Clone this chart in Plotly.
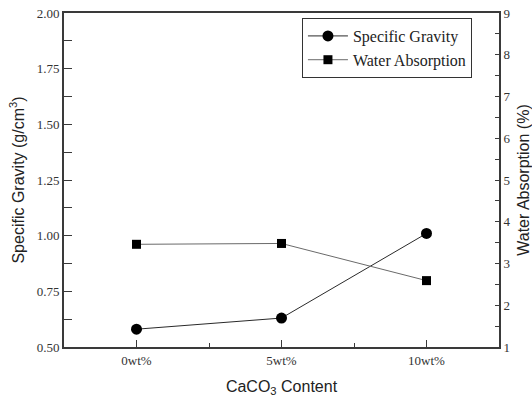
import plotly.graph_objects as go

# CaCO3 loading levels and measured properties
categories = ["0wt%", "5wt%", "10wt%"]
specific_gravity = [0.58, 0.63, 1.01]      # g/cm3
water_absorption = [3.46, 3.48, 2.59]      # %

sg_ticks = [0.50, 0.75, 1.00, 1.25, 1.50, 1.75, 2.00]
wa_ticks = [1, 2, 3, 4, 5, 6, 7, 8, 9]

x = list(range(len(categories)))

serif = "Liberation Serif"
sans = "Liberation Sans"
axis_col = "#3a3a3a"

fig = go.Figure()
fig.add_trace(go.Scatter(
    x=x, y=specific_gravity, name="Specific Gravity", mode="lines+markers",
    line=dict(color="#2a2a2a", width=1),
    marker=dict(symbol="circle", size=11, color="black"),
    yaxis="y",
))
fig.add_trace(go.Scatter(
    x=x, y=water_absorption, name="Water Absorption", mode="lines+markers",
    line=dict(color="#6a6a6a", width=1),
    marker=dict(symbol="square", size=9, color="black"),
    yaxis="y2",
))

fig.update_layout(
    width=532, height=397,
    margin=dict(l=64, r=33, t=13, b=50, autoexpand=False),
    paper_bgcolor="white", plot_bgcolor="white",
    showlegend=True,
    legend=dict(
        x=0.547, y=0.985, xanchor="left", yanchor="top",
        bordercolor="#333", borderwidth=1, bgcolor="white",
        font=dict(family=serif, size=16, color="#222"),
        tracegroupgap=0, itemwidth=40,
    ),
    xaxis=dict(
        range=[-0.5, 2.5], tickvals=x, ticktext=categories,
        ticks="inside", ticklen=7, tickcolor=axis_col, tickwidth=1,
        minor=dict(tickvals=[0.5, 1.5], ticks="inside", ticklen=4, tickcolor=axis_col),
        showline=True, linecolor=axis_col, linewidth=2, mirror=True,
        showgrid=False, zeroline=False,
        tickfont=dict(family=serif, size=13, color="#333"),
        title=dict(text="CaCO<sub>3</sub> Content", font=dict(family=sans, size=16, color="#222"), standoff=14),
    ),
    yaxis=dict(
        range=[0.5, 2.0], tickvals=sg_ticks, ticktext=[f"{v:.2f}" for v in sg_ticks],
        ticks="inside", ticklen=8, tickcolor=axis_col, tickwidth=1,
        minor=dict(dtick=0.125, ticks="inside", ticklen=8, tickcolor=axis_col),
        showline=True, linecolor=axis_col, linewidth=2,
        showgrid=False, zeroline=False,
        tickfont=dict(family=serif, size=13, color="#333"),
        title=dict(text="Specific Gravity (g/cm<sup>3</sup>)", font=dict(family=sans, size=16, color="#222"), standoff=8),
    ),
    yaxis2=dict(
        range=[1, 9], tickvals=wa_ticks, overlaying="y", side="right",
        ticks="inside", ticklen=4, tickcolor=axis_col, tickwidth=1,
        minor=dict(dtick=0.5, ticks="inside", ticklen=4, tickcolor=axis_col),
        showline=True, linecolor=axis_col, linewidth=2,
        showgrid=False, zeroline=False,
        tickfont=dict(family=serif, size=13, color="#333"),
        title=dict(text="Water Absorption (%)", font=dict(family=sans, size=16, color="#222"), standoff=20),
    ),
)

fig.write_html("out.html")
